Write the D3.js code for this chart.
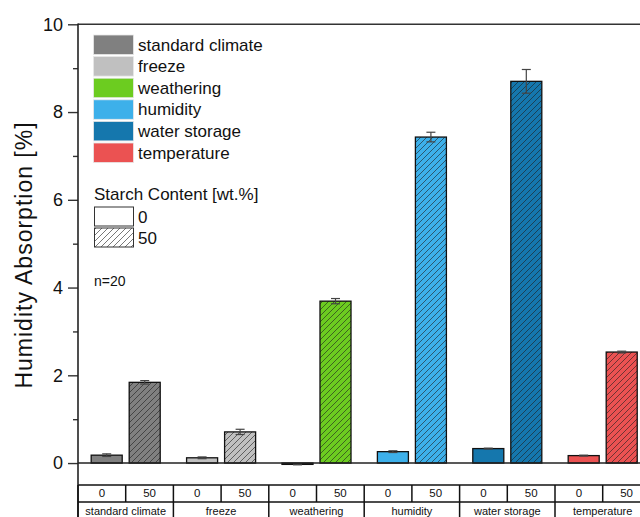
<!DOCTYPE html>
<html>
<head>
<meta charset="utf-8">
<script src="https://cdn.jsdelivr.net/npm/d3@7"></script>
<style>
  html, body { margin: 0; padding: 0; background: #fff; }
  svg { display: block; font-family: "Liberation Sans", Arial, sans-serif; }
</style>
</head>
<body>
<div id="chart"></div>
<script>
// Conditioning scenarios and starch contents
const categories = ["standard climate", "freeze", "weathering", "humidity", "water storage", "temperature"];
const starchLevels = ["0", "50"];
// Humidity absorption [%] per scenario, 0 wt.% starch
const absorption0 = [0.18, 0.12, -0.03, 0.26, 0.33, 0.17];
const error0 = [0.03, 0.02, 0.01, 0.02, 0.01, 0.01];
// Humidity absorption [%] per scenario, 50 wt.% starch
const absorption50 = [1.84, 0.71, 3.69, 7.43, 8.70, 2.53];
const error50 = [0.04, 0.06, 0.06, 0.11, 0.27, 0.02];
const colors = ["#808080", "#c0c0c0", "#6ccc20", "#3db0ea", "#1577ad", "#eb5252"];
const yMajorTicks = [0, 2, 4, 6, 8, 10];
const yMinorTicks = [1, 3, 5, 7, 9];

const W = 640, H = 517;
const plotLeft = 78, plotTop = 24.3, axisBottom = 485, row1 = 502;
const catWidth = 95.4;

const svg = d3.select("#chart").append("svg")
  .attr("width", W).attr("height", H);

const defs = svg.append("defs");
defs.append("pattern")
  .attr("id", "hatch")
  .attr("patternUnits", "userSpaceOnUse")
  .attr("width", 6).attr("height", 6)
  .append("path")
  .attr("d", "M-1,1 l2,-2 M0,6 l6,-6 M5,7 l2,-2")
  .attr("stroke", "rgba(30,30,30,0.6)")
  .attr("stroke-width", 1);

const x0 = d3.scaleBand()
  .domain(categories)
  .range([plotLeft, plotLeft + catWidth * categories.length])
  .paddingInner(0).paddingOuter(0);

const x1 = d3.scaleBand()
  .domain(starchLevels)
  .range([0, x0.bandwidth()])
  .paddingInner(0.184).paddingOuter(0.347);

const y = d3.scaleLinear().domain([-0.5, 10]).range([axisBottom, plotTop]);

// One record per bar
const rows = [];
categories.forEach((c, i) => {
  rows.push({ cat: c, level: "0", value: absorption0[i], err: error0[i], color: colors[i] });
  rows.push({ cat: c, level: "50", value: absorption50[i], err: error50[i], color: colors[i] });
});

const bars = svg.append("g");
const bx = d => x0(d.cat) + x1(d.level);

bars.selectAll("rect.fill").data(rows).join("rect")
  .attr("class", "fill")
  .attr("x", bx)
  .attr("y", d => y(Math.max(0, d.value)))
  .attr("width", x1.bandwidth())
  .attr("height", d => Math.abs(y(d.value) - y(0)))
  .attr("fill", d => d.color);

bars.selectAll("rect.hatch").data(rows.filter(d => d.level === "50")).join("rect")
  .attr("class", "hatch")
  .attr("x", bx)
  .attr("y", d => y(Math.max(0, d.value)))
  .attr("width", x1.bandwidth())
  .attr("height", d => Math.abs(y(d.value) - y(0)))
  .attr("fill", "url(#hatch)");

bars.selectAll("rect.outline").data(rows).join("rect")
  .attr("class", "outline")
  .attr("x", bx)
  .attr("y", d => y(Math.max(0, d.value)))
  .attr("width", x1.bandwidth())
  .attr("height", d => Math.max(0.5, Math.abs(y(d.value) - y(0))))
  .attr("fill", "none")
  .attr("stroke", "#111")
  .attr("stroke-width", 1.3);

// Error bars
const eb = svg.append("g").attr("stroke", "#444").attr("stroke-width", 1.2).attr("fill", "none");
rows.forEach(d => {
  const cx = bx(d) + x1.bandwidth() / 2;
  const y1 = y(d.value + d.err), y2 = y(d.value - d.err);
  eb.append("line").attr("x1", cx).attr("x2", cx).attr("y1", y1).attr("y2", y2);
  eb.append("line").attr("x1", cx - 4.5).attr("x2", cx + 4.5).attr("y1", y1).attr("y2", y1);
  eb.append("line").attr("x1", cx - 4.5).attr("x2", cx + 4.5).attr("y1", y2).attr("y2", y2);
});

// Zero reference line
svg.append("line")
  .attr("x1", plotLeft).attr("x2", W)
  .attr("y1", y(0)).attr("y2", y(0))
  .attr("stroke", "#222").attr("stroke-width", 1.4);

// Frame: top and bottom
svg.append("line").attr("x1", plotLeft).attr("x2", W).attr("y1", plotTop).attr("y2", plotTop)
  .attr("stroke", "#333").attr("stroke-width", 1.5);
svg.append("line").attr("x1", plotLeft).attr("x2", W).attr("y1", axisBottom).attr("y2", axisBottom)
  .attr("stroke", "#111").attr("stroke-width", 1.6);

// Y axis
const yAxis = svg.append("g")
  .attr("transform", `translate(${plotLeft},0)`)
  .call(d3.axisLeft(y).tickValues(yMajorTicks).tickSize(10).tickSizeOuter(0).tickPadding(5).tickFormat(d3.format("d")));
yAxis.select(".domain").remove();
yAxis.selectAll(".tick line").attr("stroke", "#333").attr("stroke-width", 1.4);
yAxis.selectAll(".tick text").attr("font-size", 18).attr("fill", "#111")
  .attr("font-family", "Liberation Sans, Arial, sans-serif");

const yMinor = svg.append("g")
  .attr("transform", `translate(${plotLeft},0)`)
  .call(d3.axisLeft(y).tickValues(yMinorTicks).tickSize(5).tickFormat(""));
yMinor.select(".domain").remove();
yMinor.selectAll(".tick line").attr("stroke", "#333").attr("stroke-width", 1.4);

svg.append("line").attr("x1", plotLeft).attr("x2", plotLeft).attr("y1", plotTop - 0.7).attr("y2", H)
  .attr("stroke", "#222").attr("stroke-width", 1.6);

svg.append("text")
  .attr("transform", `translate(32,255) rotate(-90)`)
  .attr("text-anchor", "middle")
  .attr("font-size", 23)
  .attr("letter-spacing", 1)
  .attr("fill", "#111")
  .text("Humidity Absorption [%]");

// Table below the axis: starch level row and scenario row
const table = svg.append("g").attr("stroke", "#111").attr("stroke-width", 1.5);
table.append("line").attr("x1", plotLeft).attr("x2", W).attr("y1", row1).attr("y2", row1);
categories.forEach(c => {
  const xs = x0(c);
  table.append("line").attr("x1", xs).attr("x2", xs).attr("y1", axisBottom).attr("y2", H);
  table.append("line").attr("x1", xs + x0.bandwidth() / 2).attr("x2", xs + x0.bandwidth() / 2)
    .attr("y1", axisBottom).attr("y2", row1);
});

const tLabels = svg.append("g").attr("font-size", 11.5).attr("fill", "#111").attr("text-anchor", "middle");
categories.forEach(c => {
  starchLevels.forEach((s, j) => {
    tLabels.append("text")
      .attr("x", x0(c) + x0.bandwidth() * (j + 0.5) / 2)
      .attr("y", 497)
      .text(s);
  });
  tLabels.append("text")
    .attr("x", x0(c) + x0.bandwidth() / 2)
    .attr("y", 515)
    .attr("font-size", 11)
    .text(c);
});

// Legend: scenarios
const legend = svg.append("g");
categories.forEach((c, i) => {
  const ly = 35 + i * 21.6;
  legend.append("rect").attr("x", 93.5).attr("y", ly).attr("width", 40).attr("height", 19.5)
    .attr("fill", colors[i]).attr("stroke", "#e8e8e8").attr("stroke-width", 0.8);
  legend.append("text").attr("x", 138).attr("y", ly + 15.5)
    .attr("font-size", 17).attr("fill", "#111").text(c);
});

// Legend: starch content
legend.append("text").attr("x", 94).attr("y", 200).attr("font-size", 17).attr("fill", "#111")
  .text("Starch Content [wt.%]");
starchLevels.forEach((s, j) => {
  const ly = 207 + j * 21;
  legend.append("rect").attr("x", 94.5).attr("y", ly).attr("width", 39).attr("height", 19)
    .attr("fill", j === 1 ? "url(#hatch)" : "#fff").attr("stroke", "#333").attr("stroke-width", 1);
  legend.append("text").attr("x", 138).attr("y", ly + 16)
    .attr("font-size", 17).attr("fill", "#111").text(s);
});

svg.append("text").attr("x", 94).attr("y", 286).attr("font-size", 14).attr("fill", "#111").text("n=20");
</script>
</body>
</html>
